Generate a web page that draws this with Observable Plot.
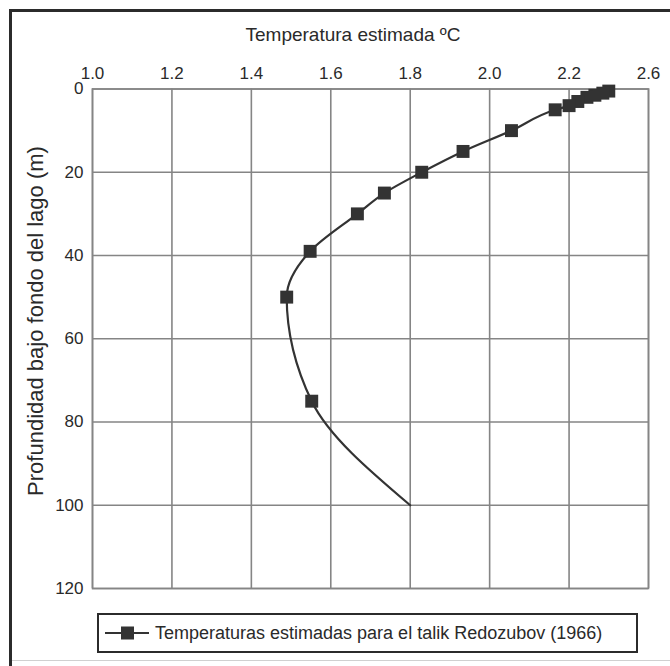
<!DOCTYPE html>
<html>
<head>
<meta charset="utf-8">
<script src="https://cdn.jsdelivr.net/npm/d3@7"></script>
<script src="https://cdn.jsdelivr.net/npm/@observablehq/plot@0.6"></script>
<style>
html, body { margin: 0; padding: 0; background: #fff; }
#wrap { position: relative; width: 670px; height: 666px; overflow: hidden;
  font-family: "Liberation Sans", Arial, sans-serif; color: #2a2a2a; background: #fff; }
#wrap svg.plot { position: absolute; left: 0; top: 0; }
.bt { position: absolute; left: 9px; top: 9px; width: 661px; height: 3px; background: #2b2b2b; }
.bl { position: absolute; left: 9px; top: 9px; width: 3px; height: 657px; background: #2b2b2b; }
.bb { position: absolute; left: 12px; top: 660px; width: 658px; height: 1px; background: #d0d0d0; }
#xtitle { position: absolute; left: 0; width: 706px; top: 23px; text-align: center; font-size: 19px; line-height: 24px; white-space: nowrap; }
#ytitle { position: absolute; left: 36px; top: 321px; font-size: 22px; line-height: 26px; white-space: nowrap;
  transform: translate(-50%, -50%) rotate(-90deg); }
#legend { position: absolute; left: 97px; top: 613px; width: 537px; height: 36px;
  border: 2px solid #2b2b2b; display: flex; align-items: center; font-size: 18px; color: #2a2a2a; }
#legend svg { margin-left: 6px; margin-right: 6px; flex: none; }
</style>
</head>
<body>
<div id="wrap">
  <div class="bt"></div><div class="bl"></div><div class="bb"></div>
  <div id="xtitle"></div>
  <div id="ytitle"></div>
  <div id="legend"></div>
</div>
<script>
// Estimated temperature (°C) vs depth below lake bottom (m)
const depth       = [0.5, 1, 1.5, 2, 3, 4, 5, 10, 15, 20, 25, 30, 39, 50, 75];
const temperature = [2.30, 2.285, 2.265, 2.245, 2.222, 2.20, 2.165, 2.055, 1.933, 1.829, 1.735, 1.667, 1.548, 1.489, 1.552];
// curve continues (without marker) to this point
const curveEndDepth = [100];
const curveEndTemp  = [1.80];

const xTicks = [1.0, 1.2, 1.4, 1.6, 1.8, 2.0, 2.2, 2.4];
const xTickLabels = ["1.0", "1.2", "1.4", "1.6", "1.8", "2.0", "2.2", "2.6"];
const yTicks = [0, 20, 40, 60, 80, 100, 120];

const xTitle = "Temperatura estimada ºC";
const yTitle = "Profundidad bajo fondo del lago (m)";
const seriesName = "Temperaturas estimadas para el talik Redozubov (1966)";

const markers = depth.map((d, i) => ({depth: d, temp: temperature[i]}));
const curve = markers.concat(curveEndDepth.map((d, i) => ({depth: d, temp: curveEndTemp[i]})));

const gridColor = "#858585";
const ink = "#333333";

const chart = Plot.plot({
  width: 670,
  height: 666,
  marginTop: 88.5,
  marginBottom: 78,
  marginLeft: 92,
  marginRight: 22,
  style: { fontFamily: "'Liberation Sans', Arial, sans-serif", fontSize: "17px", color: "#2a2a2a", background: "transparent", overflow: "visible" },
  x: { domain: [1.0, 2.4] },
  y: { domain: [0, 120], reverse: true },
  marks: [
    Plot.gridX(xTicks, { stroke: gridColor, strokeOpacity: 1, strokeWidth: 1.6 }),
    Plot.gridY(yTicks, { stroke: gridColor, strokeOpacity: 1, strokeWidth: 1.6 }),
    Plot.frame({ stroke: gridColor, strokeWidth: 1.6 }),
    Plot.axisX(xTicks, {
      anchor: "top", tickSize: 0, tickPadding: 10,
      tickFormat: d => xTickLabels[xTicks.indexOf(d)],
      label: null, fontSize: 17
    }),
    Plot.axisY(yTicks, {
      anchor: "left", tickSize: 0, tickPadding: 9,
      label: null, fontSize: 17
    }),
    Plot.line(curve, { x: "temp", y: "depth", curve: "monotone-y", stroke: ink, strokeWidth: 2.2 }),
    Plot.dot(markers, { x: "temp", y: "depth", symbol: "square", r: 7.3, fill: ink, stroke: "none" })
  ]
});
chart.classList.add("plot");
document.getElementById("wrap").prepend(chart);

document.getElementById("xtitle").textContent = xTitle;
document.getElementById("ytitle").textContent = yTitle;

// legend
const leg = document.getElementById("legend");
const ns = "http://www.w3.org/2000/svg";
const s = document.createElementNS(ns, "svg");
s.setAttribute("width", "44"); s.setAttribute("height", "20");
const ln = document.createElementNS(ns, "line");
ln.setAttribute("x1", 0); ln.setAttribute("x2", 44); ln.setAttribute("y1", 10); ln.setAttribute("y2", 10);
ln.setAttribute("stroke", ink); ln.setAttribute("stroke-width", 2.2);
const rc = document.createElementNS(ns, "rect");
rc.setAttribute("x", 16); rc.setAttribute("y", 3.5); rc.setAttribute("width", 13); rc.setAttribute("height", 13);
rc.setAttribute("fill", ink);
s.appendChild(ln); s.appendChild(rc);
leg.appendChild(s);
const t = document.createElement("span");
t.textContent = seriesName;
leg.appendChild(t);
</script>
</body>
</html>
